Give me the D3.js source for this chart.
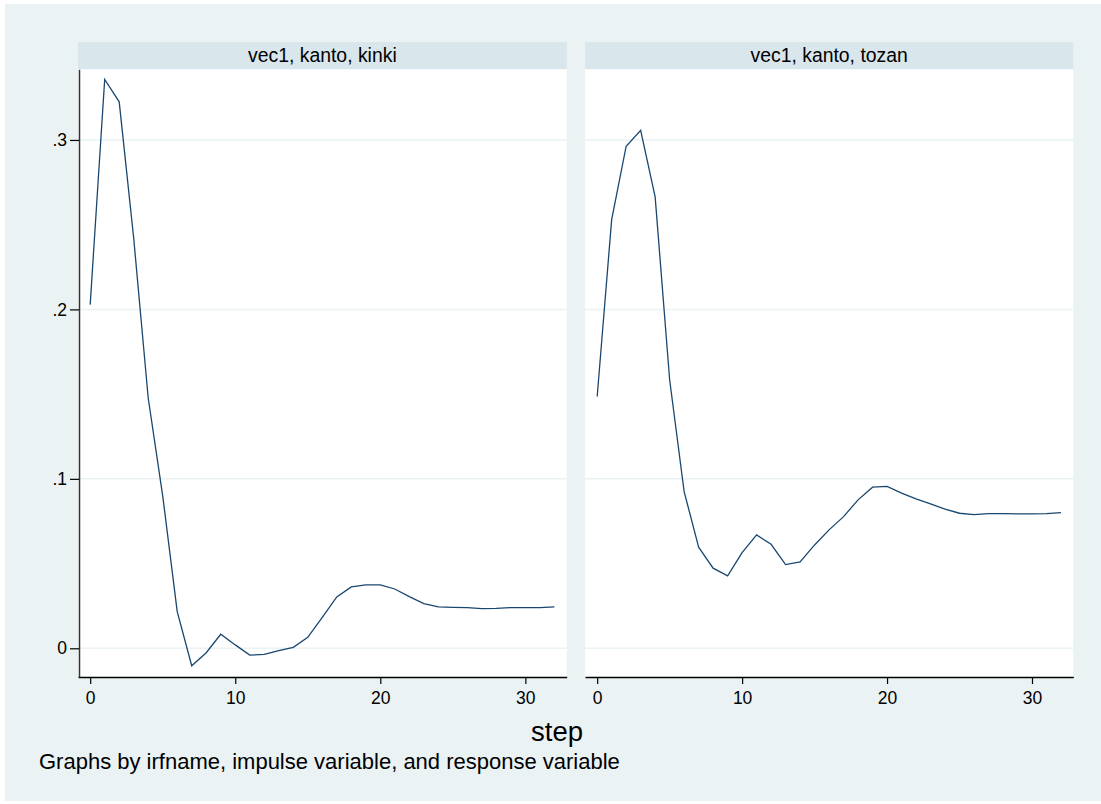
<!DOCTYPE html>
<html>
<head>
<meta charset="utf-8">
<script src="https://cdn.jsdelivr.net/npm/d3@7"></script>
<style>
  body { margin: 0; background: #ffffff; }
  text { font-family: "Liberation Sans", Arial, sans-serif; fill: #000; }
</style>
</head>
<body>
<div id="chart"></div>
<script>
// data
const steps = d3.range(0, 33);
const kinki = [0.2028, 0.3357, 0.3225, 0.2420, 0.1477, 0.0900, 0.0216, -0.0103, -0.0026, 0.0083,
  0.0020, -0.0040, -0.0036, -0.0014, 0.0006, 0.0065, 0.0183, 0.0303, 0.0362, 0.0374,
  0.0374, 0.0350, 0.0305, 0.0264, 0.0244, 0.0242, 0.0240, 0.0234, 0.0236, 0.0240,
  0.0240, 0.0240, 0.0244];
const tozan = [0.1486, 0.2530, 0.2963, 0.3057, 0.2664, 0.1585, 0.0925, 0.0597, 0.0473, 0.0427,
  0.0565, 0.0669, 0.0614, 0.0494, 0.0510, 0.0610, 0.0699, 0.0777, 0.0876, 0.0951,
  0.0955, 0.0916, 0.0882, 0.0852, 0.0821, 0.0797, 0.0789, 0.0795, 0.0795, 0.0793,
  0.0793, 0.0795, 0.0801];
const panelTitles = ["vec1, kanto, kinki", "vec1, kanto, tozan"];
const xTicks = [0, 10, 20, 30];
const yTicks = [0, 0.1, 0.2, 0.3];
const yTickLabels = ["0", ".1", ".2", ".3"];

const W = 1101, H = 804;
const svg = d3.select("#chart").append("svg")
    .attr("width", W)
    .attr("height", H);

// graph region
svg.append("rect")
    .attr("x", 5).attr("y", 4)
    .attr("width", W - 5).attr("height", H - 7)
    .attr("fill", "#eaf2f3");

// panels layout
const panels = [
  { left: 78, right: 566.7, values: kinki, title: panelTitles[0], yAxis: true },
  { left: 585, right: 1073.3, values: tozan, title: panelTitles[1], yAxis: false }
];
const stripTop = 42, plotTop = 69.3, plotBottom = 677;

const y = d3.scaleLinear()
    .domain([-0.01694, 0.3417])
    .range([plotBottom, plotTop]);

panels.forEach(p => {
  const x = d3.scaleLinear()
      .domain([-0.84, 32.85])
      .range([p.left, p.right]);

  const g = svg.append("g");

  // strip
  g.append("rect")
      .attr("x", p.left).attr("y", stripTop)
      .attr("width", p.right - p.left).attr("height", plotTop - stripTop)
      .attr("fill", "#d9e6eb");
  g.append("text")
      .attr("x", (p.left + p.right) / 2)
      .attr("y", 61.7)
      .attr("text-anchor", "middle")
      .style("font-size", "19.4px")
      .text(p.title);

  // plot region
  g.append("rect")
      .attr("x", p.left).attr("y", plotTop)
      .attr("width", p.right - p.left).attr("height", plotBottom - plotTop)
      .attr("fill", "#ffffff");

  // gridlines
  g.selectAll(".grid")
      .data(yTicks)
      .enter()
      .append("line")
      .attr("x1", p.left).attr("x2", p.right)
      .attr("y1", d => y(d)).attr("y2", d => y(d))
      .attr("stroke", "#eaf2f3")
      .attr("stroke-width", 1.5);

  // x axis
  const xAxis = d3.axisBottom(x)
      .tickValues(xTicks)
      .tickSize(7)
      .tickSizeOuter(0)
      .tickPadding(8)
      .tickFormat(d3.format("d"));
  const gx = g.append("g")
      .attr("transform", `translate(0,${plotBottom})`)
      .call(xAxis);
  gx.select(".domain").attr("stroke", "#000").attr("stroke-width", 1.3);
  gx.selectAll(".tick line").attr("stroke", "#000").attr("stroke-width", 1.2);
  gx.selectAll(".tick text")
      .style("font-size", "17.5px")
      .style("font-family", "'Liberation Sans', Arial, sans-serif")
      .attr("fill", "#000");

  // y axis only on first panel
  if (p.yAxis) {
    const yAxis = d3.axisLeft(y)
        .tickValues(yTicks)
        .tickSize(9)
        .tickSizeOuter(0)
        .tickPadding(3)
        .tickFormat((d, i) => yTickLabels[i]);
    const gy = g.append("g")
        .attr("transform", `translate(${p.left + 1},0)`)
        .call(yAxis);
    gy.select(".domain").attr("stroke", "#333").attr("stroke-width", 1.5);
    gy.selectAll(".tick line").attr("stroke", "#000").attr("stroke-width", 1.2);
    gy.selectAll(".tick text")
        .style("font-size", "17.5px")
        .style("font-family", "'Liberation Sans', Arial, sans-serif")
        .attr("fill", "#000");
  }

  // irf line
  const line = d3.line()
      .x((d, i) => x(steps[i]))
      .y(d => y(d));
  g.append("path")
      .datum(p.values)
      .attr("d", line)
      .attr("fill", "none")
      .attr("stroke", "#1a476f")
      .attr("stroke-width", 1.3);
});

// axis title and note
svg.append("text")
    .attr("x", 557)
    .attr("y", 741)
    .attr("text-anchor", "middle")
    .style("font-size", "27.5px")
    .text("step");

svg.append("text")
    .attr("x", 39)
    .attr("y", 769)
    .style("font-size", "22px")
    .text("Graphs by irfname, impulse variable, and response variable");
</script>
</body>
</html>
